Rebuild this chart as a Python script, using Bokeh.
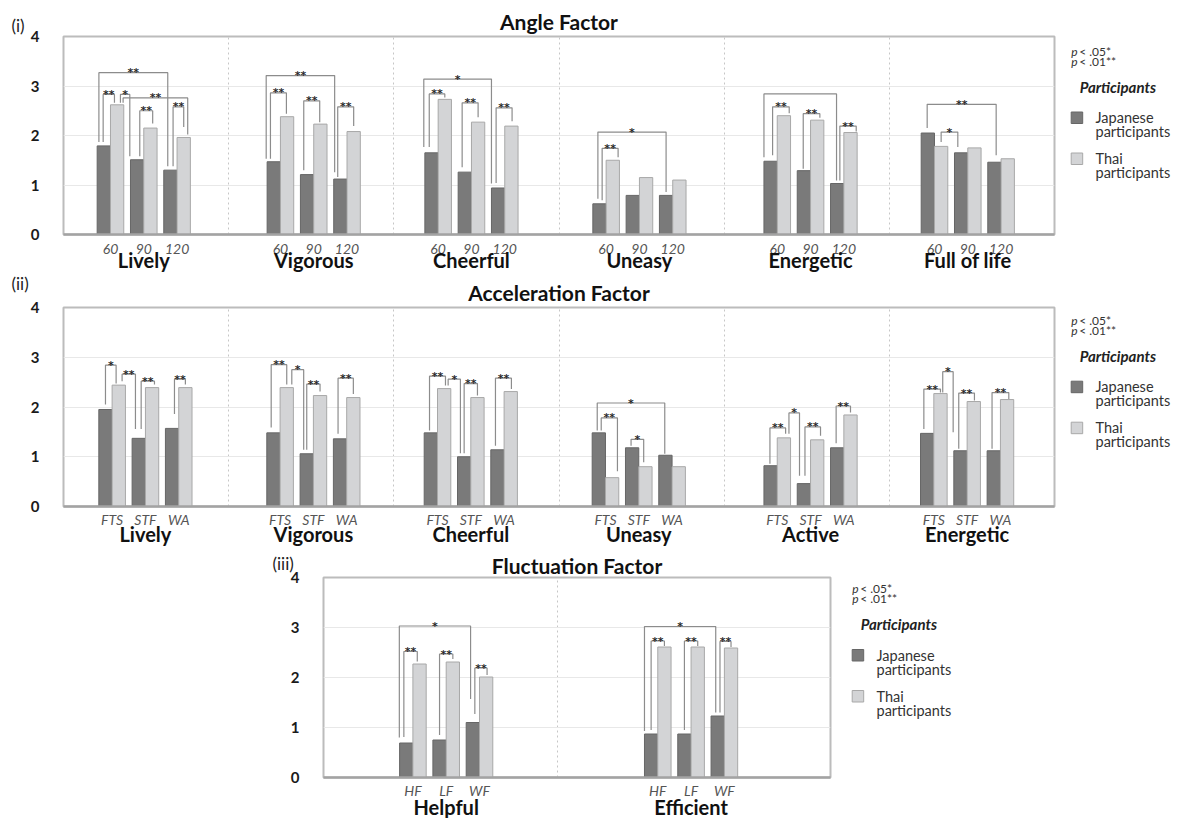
from bokeh.plotting import figure
from bokeh.models import (Range1d, FixedTicker, CustomJSTickFormatter, Label, LinearAxis, Spacer)
from bokeh.layouts import column, row
from bokeh.embed import file_html
from bokeh.resources import INLINE
from bokeh.core.properties import value

# ---------------- data ----------------
ANGLE_GROUPS = ["Lively", "Vigorous", "Cheerful", "Uneasy", "Energetic", "Full of life"]
ANGLE_LEVELS = ["60", "90", "120"]
ANGLE_JAPANESE = [[1.79, 1.51, 1.30], [1.47, 1.21, 1.12], [1.65, 1.26, 0.94],
                  [0.62, 0.79, 0.79], [1.48, 1.29, 1.03], [2.05, 1.65, 1.46]]
ANGLE_THAI = [[2.62, 2.15, 1.96], [2.38, 2.23, 2.08], [2.73, 2.27, 2.19],
              [1.50, 1.15, 1.10], [2.40, 2.31, 2.06], [1.78, 1.75, 1.53]]

ACCEL_GROUPS = ["Lively", "Vigorous", "Cheerful", "Uneasy", "Active", "Energetic"]
ACCEL_LEVELS = ["FTS", "STF", "WA"]
ACCEL_JAPANESE = [[1.95, 1.37, 1.57], [1.48, 1.06, 1.36], [1.48, 1.00, 1.14],
                  [1.48, 1.18, 1.03], [0.82, 0.46, 1.18], [1.47, 1.12, 1.12]]
ACCEL_THAI = [[2.44, 2.39, 2.39], [2.39, 2.23, 2.19], [2.37, 2.19, 2.31],
              [0.58, 0.80, 0.80], [1.38, 1.34, 1.84], [2.27, 2.11, 2.15]]

FLUCT_GROUPS = ["Helpful", "Efficient"]
FLUCT_LEVELS = ["HF", "LF", "WF"]
FLUCT_JAPANESE = [[0.69, 0.75, 1.10], [0.87, 0.87, 1.23]]
FLUCT_THAI = [[2.27, 2.31, 2.01], [2.61, 2.61, 2.59]]

SERIES = ["Japanese\nparticipants", "Thai\nparticipants"]
LEGEND_TITLE = "Participants"
P_NOTES = [("p", "< .05*"), ("p", "< .01**")]

# significance brackets: (group, bar_a, bar_b, top, end_a, end_b, stars)
# bar index: 0/1 = first level Japanese/Thai, 2/3 = second, 4/5 = third
ANGLE_BRACKETS = [
    (0, 0, 4, 3.27, 1.87, 1.38, "**"), (0, 0, 1, 2.83, 1.87, 2.66, "**"),
    (0, 1, 2, 2.83, 2.66, 1.58, "*"), (0, 1, 5, 2.76, 2.66, 2.02, "**"),
    (0, 2, 3, 2.50, 1.58, 2.24, "**"), (0, 4, 5, 2.58, 1.38, 2.17, "**"),
    (1, 0, 4, 3.21, 1.53, 1.26, "**"), (1, 0, 1, 2.86, 1.53, 2.44, "**"),
    (1, 2, 3, 2.70, 1.30, 2.27, "**"), (1, 4, 5, 2.58, 1.16, 2.19, "**"),
    (2, 0, 4, 3.14, 1.77, 1.03, "*"), (2, 0, 1, 2.84, 1.77, 2.77, "**"),
    (2, 2, 3, 2.66, 1.36, 2.37, "**"), (2, 4, 5, 2.56, 1.04, 2.29, "**"),
    (3, 0, 4, 2.07, 0.72, 0.86, "*"), (3, 0, 1, 1.74, 0.69, 1.56, "**"),
    (4, 0, 4, 2.84, 1.56, 1.09, ""), (4, 0, 1, 2.58, 1.60, 2.45, "**"),
    (4, 2, 3, 2.44, 1.33, 2.36, "**"), (4, 4, 5, 2.19, 1.09, 2.08, "**"),
    (5, 0, 4, 2.63, 2.15, 1.60, "**"), (5, 1, 2, 2.07, 1.87, 1.77, "*"),
]
ANGLE_LEG_DX = [(-0.37, -0.2), (-0.05, -0.2), (0.25, -0.55), (0.45, 0.3), (0.2, 0.17), (0.2, 0.0),
                (-0.57, -0.43), (-0.25, -0.05), (-0.25, -0.05), (-0.2, 0.0),
                (-0.58, -0.5), (-0.17, 0.0), (-0.2, 0.0), (-0.15, 0.05),
                (-0.12, 0.0), (0.2, 0.4),
                (-0.5, -0.05), (0.15, 0.4), (-0.05, 0.2), (0.2, 0.43),
                (-0.05, 0.13), (0.0, -0.25)]

ACCEL_BRACKETS = [
    (0, 0, 1, 2.84, 2.05, 2.47, "*"), (0, 1, 2, 2.66, 2.52, 1.56, "**"),
    (0, 2, 3, 2.52, 1.56, 2.45, "**"), (0, 4, 5, 2.56, 1.86, 2.45, "**"),
    (1, 0, 1, 2.85, 1.59, 2.45, "**"), (1, 1, 2, 2.75, 2.45, 1.14, "*"),
    (1, 2, 3, 2.46, 1.14, 2.31, "**"), (1, 4, 5, 2.58, 1.46, 2.26, "**"),
    (2, 0, 1, 2.62, 1.53, 2.43, "**"), (2, 1, 2, 2.56, 2.43, 1.07, "*"),
    (2, 2, 3, 2.47, 1.07, 2.23, "**"), (2, 4, 5, 2.58, 1.22, 2.36, "**"),
    (3, 0, 4, 2.08, 1.53, 1.06, "*"), (3, 0, 1, 1.78, 1.53, 0.71, "**"),
    (3, 2, 3, 1.35, 1.22, 0.89, "*"),
    (4, 0, 1, 1.58, 0.86, 1.46, "**"), (4, 1, 2, 1.88, 1.46, 0.62, "*"),
    (4, 2, 3, 1.60, 0.62, 1.42, "**"), (4, 4, 5, 2.02, 1.27, 1.89, "**"),
    (5, 0, 1, 2.36, 1.56, 2.29, "**"), (5, 1, 2, 2.71, 2.29, 1.49, "*"),
    (5, 2, 3, 2.28, 1.16, 2.13, "**"), (5, 4, 5, 2.29, 1.16, 2.16, "**"),
]
ACCEL_LEG_DX = [(0.0, -0.2), (0.25, -0.25), (0.18, 0.18), (0.18, 0.0),
                (-0.17, 0.0), (0.38, -0.23), (0.0, 0.0), (-0.15, 0.0),
                (-0.1, 0.1), (0.3, -0.28), (0.0, 0.0), (-0.15, 0.05),
                (-0.12, -0.05), (0.18, 0.4), (-0.08, -0.13),
                (-0.05, 0.13), (0.38, -0.33), (0.08, 0.25), (-0.08, 0.0),
                (-0.25, 0.0), (0.17, -0.55), (-0.13, 0.05), (-0.13, 0.13)]

FLUCT_BRACKETS = [
    (0, 0, 4, 3.03, 0.80, 1.57, "*"), (0, 0, 1, 2.52, 0.81, 2.32, "**"),
    (0, 2, 3, 2.47, 0.85, 2.37, "**"), (0, 4, 5, 2.19, 1.27, 2.05, "**"),
    (1, 0, 4, 3.02, 0.93, 1.30, "*"), (1, 0, 1, 2.73, 0.95, 2.63, "**"),
    (1, 2, 3, 2.73, 0.95, 2.63, "**"), (1, 4, 5, 2.72, 1.30, 2.61, "**"),
]
FLUCT_LEG_DX = [(-0.52, -0.17), (-0.18, -0.17), (0.0, 0.0), (0.15, 0.07),
                (-0.5, -0.15), (0.0, 0.0), (0.0, 0.0), (0.17, 0.0)]

# ---------------- styling / layout ----------------
FONT = "Lato"
PAGE_W = 1177
PAIR_PITCH_PX = 33.3
BAR_PX = 13.3
JAP_FILL, JAP_LINE = "#7a7a7a", "#666666"
THAI_FILL, THAI_LINE = "#d3d4d6", "#a8a8a8"
BRACKET_COLOR = "#8c8c8c"
RIGHT_GAP = 6


def build_panel(groups, levels, jap, thai, brackets, leg_dx, geo):
    fl, ft, fw, fh = geo["frame"]
    ct, cb = geo["canvas"]
    x0 = geo["canvas_left"]
    xr = geo["x_end"]
    upx = fw / xr

    def dx(px):
        return (px - fl) / upx

    def dy(py):
        return (ft + fh - py) / fh * 4.0

    pitch = PAIR_PITCH_PX / upx
    bw = BAR_PX / upx
    gc = geo["group_centers"]

    p = figure(frame_width=fw, frame_height=fh,
               min_border_left=fl - x0, min_border_right=RIGHT_GAP,
               min_border_top=ft - ct, min_border_bottom=cb - (ft + fh),
               x_range=Range1d(0, xr), y_range=Range1d(0, 4),
               output_backend="svg", toolbar_location=None, tools="")
    p.background_fill_color = "white"
    p.border_fill_color = "white"
    p.outline_line_color = "#bcbcbc"
    p.outline_line_width = 2

    # title
    p.title.text = geo["title"]
    p.title.align = "center"
    p.title.offset = geo["title_offset"]
    p.title.standoff = geo["title_standoff"]
    p.title.text_font = FONT
    p.title.text_font_size = "21px"
    p.title.text_font_style = "bold"
    p.title.text_color = "#111111"

    # bars
    xj, xt, tj, tt, ticks, tlabels = [], [], [], [], [], []
    for g in range(len(groups)):
        for s in range(len(levels)):
            c = gc[g] + (s - 1) * pitch
            ticks.append(c)
            tlabels.append(levels[s])
            xj.append(c - bw / 2)
            xt.append(c + bw / 2)
            tj.append(jap[g][s])
            tt.append(thai[g][s])
    p.vbar(x=xj, top=tj, bottom=0, width=bw, fill_color=JAP_FILL, line_color=JAP_LINE, line_width=1)
    p.vbar(x=xt, top=tt, bottom=0, width=bw, fill_color=THAI_FILL, line_color=THAI_LINE, line_width=1)

    # brackets
    def bar_x(g, k):
        s, ser = k // 2, k % 2
        return gc[g] + (s - 1) * pitch + (ser - 0.5) * bw

    xs, ys, sx, sy, st = [], [], [], [], []
    for (g, a, b, top, ea, eb, stars), (da, db) in zip(brackets, leg_dx):
        x1 = bar_x(g, a) + da * bw
        x2 = bar_x(g, b) + db * bw
        xs.append([x1, x1, x2, x2])
        ys.append([ea, top, top, eb])
        sx.append((x1 + x2) / 2)
        sy.append(top)
        st.append(stars)
    p.multi_line(xs=xs, ys=ys, line_color=BRACKET_COLOR, line_width=1.2)
    p.text(x=sx, y=sy, text=st, text_font=value("DejaVu Sans"), text_font_size="11px",
           text_font_style="bold", text_align="center", text_baseline="alphabetic",
           text_color="#222222", text_alpha=0.99)

    # x axes: levels, then group names
    xa = p.xaxis[0]
    xa.ticker = FixedTicker(ticks=ticks)
    xa.formatter = CustomJSTickFormatter(args=dict(labels=tlabels), code="return labels[index];")
    xa.major_tick_line_color = None
    xa.minor_tick_line_color = None
    xa.axis_line_color = "#a3a3a3"
    xa.axis_line_width = 2.5
    xa.major_label_standoff = geo["sub_standoff"]
    xa.major_label_text_font = FONT
    xa.major_label_text_font_style = "italic"
    xa.major_label_text_font_size = "14px"
    xa.major_label_text_color = "#555555"

    ga = LinearAxis(ticker=FixedTicker(ticks=list(gc)),
                    formatter=CustomJSTickFormatter(args=dict(labels=groups), code="return labels[index];"))
    ga.axis_line_color = None
    ga.major_tick_line_color = None
    ga.minor_tick_line_color = None
    ga.major_label_standoff = geo["group_standoff"]
    ga.major_label_text_font = FONT
    ga.major_label_text_font_style = "bold"
    ga.major_label_text_font_size = "20px"
    ga.major_label_text_color = "#111111"
    p.add_layout(ga, "below")

    ya = p.yaxis[0]
    ya.ticker = FixedTicker(ticks=[0, 1, 2, 3, 4])
    ya.axis_line_color = None
    ya.major_tick_line_color = None
    ya.minor_tick_line_color = None
    ya.major_label_standoff = 18
    ya.major_label_text_font = FONT
    ya.major_label_text_font_style = "bold"
    ya.major_label_text_font_size = "15px"
    ya.major_label_text_color = "#1a1a1a"

    p.ygrid.ticker = FixedTicker(ticks=[1, 2, 3])
    p.ygrid.grid_line_color = "#e8e8e8"
    p.ygrid.grid_line_width = 1
    p.xgrid.ticker = FixedTicker(ticks=geo["separators"])
    p.xgrid.grid_line_color = "#c6c6c6"
    p.xgrid.grid_line_dash = "2 3"
    p.xgrid.grid_line_width = 1

    # panel tag, e.g. "(i)"
    tx, tyb, ttext = geo["tag"]
    p.add_layout(Label(x=dx(tx), y=dy(tyb), text=ttext, text_font=FONT, text_font_size="17px",
                       text_color="#222222", text_align="left", text_baseline="alphabetic"), "left")

    # legend figure to the right of the frame
    lx0 = fl + fw + RIGHT_GAP
    lw = geo["legend_width"]
    lg = figure(frame_width=lw, frame_height=fh,
                min_border_left=0, min_border_right=0,
                min_border_top=ft - ct, min_border_bottom=cb - (ft + fh),
                x_range=Range1d(lx0, lx0 + lw), y_range=Range1d(ft + fh, ft),
                x_axis_location=None, y_axis_location=None,
                output_backend="svg", toolbar_location=None, tools="")
    lg.grid.visible = False
    lg.outline_line_color = None
    lg.background_fill_color = "white"
    lg.border_fill_color = "white"
    ax, ay = geo["legend_anchor"]
    pv_y = [ay - 61, ay - 51]
    lg.text(x=[ax, ax], y=pv_y, text=[n[0] for n in P_NOTES], text_font=value(FONT),
            text_font_style="italic", text_font_size="12px", text_color="#333333",
            text_baseline="alphabetic")
    lg.text(x=[ax + 8, ax + 8], y=pv_y, text=[n[1] for n in P_NOTES], text_font=value(FONT),
            text_font_size="12px", text_color="#333333", text_baseline="alphabetic")
    lg.text(x=[ax + 8.5], y=[ay - 25.5], text=[LEGEND_TITLE], text_font=value(FONT),
            text_font_style="bold italic", text_font_size="15px", text_color="#222222",
            text_baseline="alphabetic")
    tops = [ay, ay + 41]
    lg.quad(left=[ax, ax], right=[ax + 11.5, ax + 11.5], top=tops, bottom=[t + 11.5 for t in tops],
            fill_color=[JAP_FILL, THAI_FILL], line_color=[JAP_LINE, THAI_LINE], line_width=1)
    lx, ly, ltxt = [], [], []
    for i, name in enumerate(SERIES):
        first, second = name.split("\n")
        lx += [ax + 24.3, ax + 24.3]
        ly += [tops[i] + 5.5, tops[i] + 19.5]
        ltxt += [first, second]
    lg.text(x=lx, y=ly, text=ltxt, text_font=value(FONT), text_font_size="14.5px",
            text_color="#333333", text_baseline="alphabetic")
    return p, lg


GEO_ANGLE = dict(canvas=(0, 274), canvas_left=0, frame=(63, 36, 991, 198), x_end=6,
                 group_centers=[0.486, 1.515, 2.470, 3.487, 4.523, 5.475],
                 separators=[1, 2, 3, 4, 5], sub_standoff=3, group_standoff=-15,
                 tag=(11, 25, "(i)"), title="Angle Factor", title_offset=-7, title_standoff=6,
                 legend_anchor=(1070.7, 111.5), legend_width=PAGE_W - 1060)
GEO_ACCEL = dict(canvas=(274, 551), canvas_left=0, frame=(63, 307, 991, 199), x_end=6,
                 group_centers=[0.496, 1.513, 2.466, 3.483, 4.523, 5.471],
                 separators=[1, 2, 3, 4, 5], sub_standoff=-2, group_standoff=-15,
                 tag=(11, 283, "(ii)"), title="Acceleration Factor", title_offset=-4, title_standoff=6,
                 legend_anchor=(1070.7, 380.7), legend_width=PAGE_W - 1060)
GEO_FLUCT = dict(canvas=(551, 818), canvas_left=260, frame=(323, 577, 507, 200), x_end=2,
                 group_centers=[0.484, 1.450],
                 separators=[0.924], sub_standoff=-2, group_standoff=-13,
                 tag=(272, 563, "(iii)"), title="Fluctuation Factor", title_offset=-18, title_standoff=-1,
                 legend_anchor=(851.7, 649), legend_width=140)

p1, l1 = build_panel(ANGLE_GROUPS, ANGLE_LEVELS, ANGLE_JAPANESE, ANGLE_THAI, ANGLE_BRACKETS, ANGLE_LEG_DX, GEO_ANGLE)
p2, l2 = build_panel(ACCEL_GROUPS, ACCEL_LEVELS, ACCEL_JAPANESE, ACCEL_THAI, ACCEL_BRACKETS, ACCEL_LEG_DX, GEO_ACCEL)
p3, l3 = build_panel(FLUCT_GROUPS, FLUCT_LEVELS, FLUCT_JAPANESE, FLUCT_THAI, FLUCT_BRACKETS, FLUCT_LEG_DX, GEO_FLUCT)

left_pad = GEO_FLUCT["canvas_left"]
p3_width = GEO_FLUCT["frame"][0] - left_pad + GEO_FLUCT["frame"][2] + RIGHT_GAP
right_pad = PAGE_W - left_pad - p3_width - GEO_FLUCT["legend_width"]

layout = column(row(p1, l1, spacing=0), row(p2, l2, spacing=0),
                row(Spacer(width=left_pad, height=10), p3, l3, Spacer(width=right_pad, height=10), spacing=0),
                spacing=0)
open("out.html", "w").write(file_html(layout, INLINE))
